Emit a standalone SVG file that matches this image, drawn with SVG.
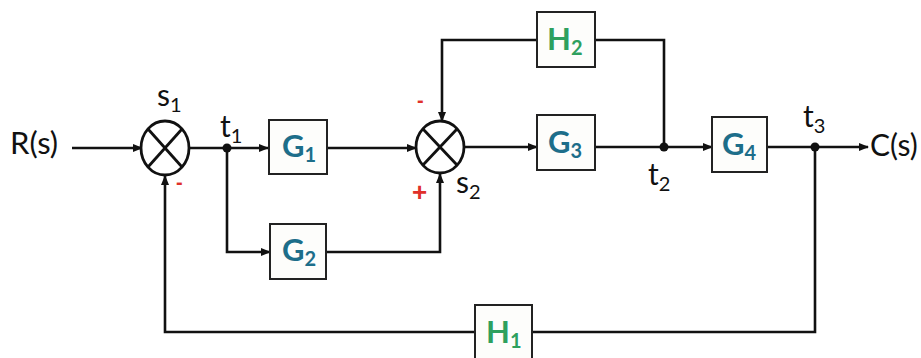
<svg xmlns="http://www.w3.org/2000/svg" width="921" height="358" viewBox="0 0 921 358">
<defs>
<marker id="arr" markerWidth="10" markerHeight="8" refX="9" refY="4" orient="auto" markerUnits="userSpaceOnUse">
<path d="M0,0 L10,4 L0,8 Z" fill="#111"/>
</marker>
<style>
.w{fill:none;stroke:#111;stroke-width:2.6}
.a{marker-end:url(#arr)}
.box{fill:#fdfdfb;stroke:#222;stroke-width:2}
.sum{fill:#fff;stroke:#111;stroke-width:2.8}
.x{stroke:#111;stroke-width:2.8}
.t{font-family:Lato,"Open Sans","Liberation Sans",sans-serif;fill:#111}
.g{font-family:Lato,"Open Sans","Liberation Sans",sans-serif;fill:#1d6e8a;font-weight:bold;font-size:31px}
.h{font-family:Lato,"Open Sans","Liberation Sans",sans-serif;fill:#2ea05e;font-weight:bold;font-size:31px}
.sub{font-size:20px}
.r{font-family:"Liberation Sans",sans-serif;fill:#e0302a;font-weight:bold}
.dot{fill:#111}
</style>
</defs>
<rect width="921" height="358" fill="#fff"/>

<g id="connectors">
<path class="w a" d="M72,148 H142"/>
<path class="w a" d="M189,148 H268"/>
<path class="w a" d="M227,148 V252 H270"/>
<path class="w a" d="M327,148 H416"/>
<path class="w a" d="M326,252 H440 V174"/>
<path class="w a" d="M465,147 H537"/>
<path class="w a" d="M595,147 H712"/>
<path class="w" d="M664,147 V40 H595"/>
<path class="w a" d="M537,40 H442 V121"/>
<path class="w a" d="M767,147 H868"/>
<path class="w" d="M815,147 V332 H532"/>
<path class="w a" d="M475,332 H165 V176"/>
</g>

<g id="R">
<text class="t" x="10" y="154" font-size="31">R(s)</text>
</g>
<g id="C">
<text class="t" x="870" y="156" font-size="30">C(s)</text>
</g>

<g id="s1">
<ellipse class="sum" cx="165" cy="148" rx="24" ry="27"/>
<line class="x" x1="148" y1="129" x2="182" y2="167"/>
<line class="x" x1="182" y1="129" x2="148" y2="167"/>
<text class="t" x="157" y="106" font-size="30">s<tspan class="sub" dy="6">1</tspan></text>
<text class="r" x="176" y="189" font-size="20">-</text>
</g>

<g id="t1">
<circle class="dot" cx="227" cy="148" r="4.5"/>
<text class="t" x="220" y="137" font-size="30">t<tspan class="sub" dy="6">1</tspan></text>
</g>

<g id="G1">
<rect class="box" x="269" y="120" width="58" height="54"/>
<text class="g" x="282" y="157">G<tspan class="sub" dy="5">1</tspan></text>
</g>

<g id="G2">
<rect class="box" x="270" y="224" width="56" height="55"/>
<text class="g" x="282" y="261">G<tspan class="sub" dy="5">2</tspan></text>
</g>

<g id="s2">
<ellipse class="sum" cx="440" cy="147" rx="24" ry="26"/>
<line class="x" x1="423" y1="129" x2="457" y2="165"/>
<line class="x" x1="457" y1="129" x2="423" y2="165"/>
<text class="t" x="456" y="193" font-size="30">s<tspan class="sub" dy="6">2</tspan></text>
<text class="r" x="417" y="107" font-size="20">-</text>
<text class="r" x="412" y="201" font-size="26">+</text>
</g>

<g id="H2">
<rect class="box" x="537" y="12" width="58" height="55"/>
<text class="h" x="547" y="50">H<tspan class="sub" dy="5">2</tspan></text>
</g>

<g id="G3">
<rect class="box" x="537" y="115" width="58" height="55"/>
<text class="g" x="548" y="153">G<tspan class="sub" dy="5">3</tspan></text>
</g>

<g id="t2">
<circle class="dot" cx="664" cy="147" r="4.5"/>
<text class="t" x="648" y="185" font-size="30">t<tspan class="sub" dy="6">2</tspan></text>
</g>

<g id="G4">
<rect class="box" x="712" y="117" width="55" height="55"/>
<text class="g" x="722" y="155">G<tspan class="sub" dy="5">4</tspan></text>
</g>

<g id="t3">
<circle class="dot" cx="815" cy="147" r="4.5"/>
<text class="t" x="803" y="127" font-size="30">t<tspan class="sub" dy="6">3</tspan></text>
</g>

<g id="H1">
<rect class="box" x="475" y="305" width="57" height="60"/>
<text class="h" x="486" y="343">H<tspan class="sub" dy="5">1</tspan></text>
</g>
</svg>
